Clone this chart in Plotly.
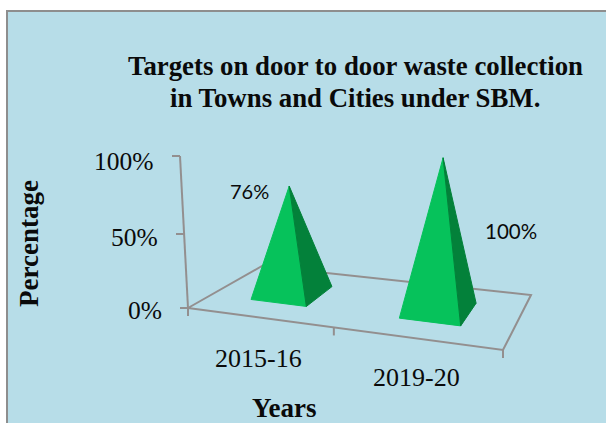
import plotly.graph_objects as go

# ---- data ----
categories = ["2015-16", "2019-20"]
values = [76, 100]
value_labels = ["76%", "100%"]
tick_values = [0, 50, 100]
tick_labels = ["0%", "50%", "100%"]
title_lines = ["Targets on door to door waste collection", "in Towns and Cities under SBM."]
x_title = "Years"
y_title = "Percentage"

# ---- colours / fonts ----
PANEL = "#B7DDE8"
BORDER = "#8E8E8E"
AXIS = "#938F8F"
LIGHT = "#06C25B"
DARK = "#03813A"
SERIF = "Liberation Serif"
SANS = "Lato"

# ---- oblique projection of the 3D chart box ----
FL, FR, BR, BL = (188, 308), (503, 350), (531, 295), (262, 266)
CAT_S = [0.223, 0.727]     # category centres across the floor
CAT_V = 0.536              # depth of the bars on the floor
HALF_V = 0.215
BOUNDARY_S = 0.463


def half_s(s):
    return 0.092 + 0.02 * (s - 0.219)


def floor(s, v):
    return tuple(
        (1 - s) * (1 - v) * FL[i] + s * (1 - v) * FR[i] + s * v * BR[i] + (1 - s) * v * BL[i]
        for i in (0, 1)
    )


def project(s, v, z):
    x, y = floor(s, v)
    lean = -0.08 + 0.17 * s
    if s < 0.02:
        return x + lean * z, y - (1.44 * z + 0.0008 * z * z)
    return x + lean * z, y - (1.41 + 0.24 * (s - 0.219)) * z


fig = go.Figure()


def line(points, color=AXIS, width=2):
    fig.add_trace(go.Scatter(x=[p[0] for p in points], y=[p[1] for p in points], mode="lines",
                             line=dict(color=color, width=width), hoverinfo="skip", showlegend=False))


def face(points, color):
    pts = points + points[:1]
    fig.add_trace(go.Scatter(x=[p[0] for p in pts], y=[p[1] for p in pts], mode="lines", fill="toself",
                             fillcolor=color, line=dict(color=color, width=1), hoverinfo="skip",
                             showlegend=False))


# floor edges
line([FL, BL, BR, FR, FL])
# value axis and its ticks
line([project(0, 0, 0), project(0, 0, 100)])
for t in tick_values:
    px, py = project(0, 0, t)
    line([(px - 8, py), (px, py)])
# category axis ticks
for s in [0, BOUNDARY_S, 1]:
    px, py = floor(s, 0)
    line([(px, py), (px, py + 8)])

# pyramids
for s, val in zip(CAT_S, values):
    hs = half_s(s)
    a = floor(s - hs, CAT_V - HALF_V)
    b = floor(s + hs, CAT_V - HALF_V)
    c = floor(s + hs, CAT_V + HALF_V)
    apex = project(s, CAT_V, val)
    face([a, b, apex], LIGHT)
    face([b, c, apex], DARK)

# text
annotations = []


def text(x, y, t, size, family=SERIF, bold=False, angle=0, color="#0A0A0A"):
    annotations.append(dict(x=x, y=y, xref="x", yref="y", text=f"<b>{t}</b>" if bold else t, showarrow=False,
                            font=dict(family=family, size=size, color=color), textangle=angle,
                            xanchor="center", yanchor="middle"))


text(355, 66, title_lines[0], 26.8, bold=True)
text(355, 98, title_lines[1], 26.8, bold=True)
text(124, 161, tick_labels[2], 25.5)
text(134, 237, tick_labels[1], 25.5)
text(145, 310, tick_labels[0], 25.5)
text(258, 358, categories[0], 26)
text(416, 377, categories[1], 26)
text(284, 408, x_title, 27, bold=True)
text(29, 244, y_title, 27, bold=True, angle=-90)
text(249, 191, value_labels[0], 20, family=SANS)
text(511, 231, value_labels[1], 20.5, family=SANS)

fig.update_layout(
    width=606, height=423, margin=dict(l=0, r=0, t=0, b=0),
    paper_bgcolor="white", plot_bgcolor="white", showlegend=False,
    xaxis=dict(range=[0, 606], visible=False, fixedrange=True),
    yaxis=dict(range=[423, 0], visible=False, fixedrange=True),
    annotations=annotations,
    shapes=[dict(type="rect", xref="x", yref="y", x0=7, y0=11, x1=612, y1=430,
                 fillcolor=PANEL, line=dict(color=BORDER, width=2), layer="below")],
)
fig.write_html("out.html", post_script="document.body.style.margin='0';", config={"displayModeBar": False})
